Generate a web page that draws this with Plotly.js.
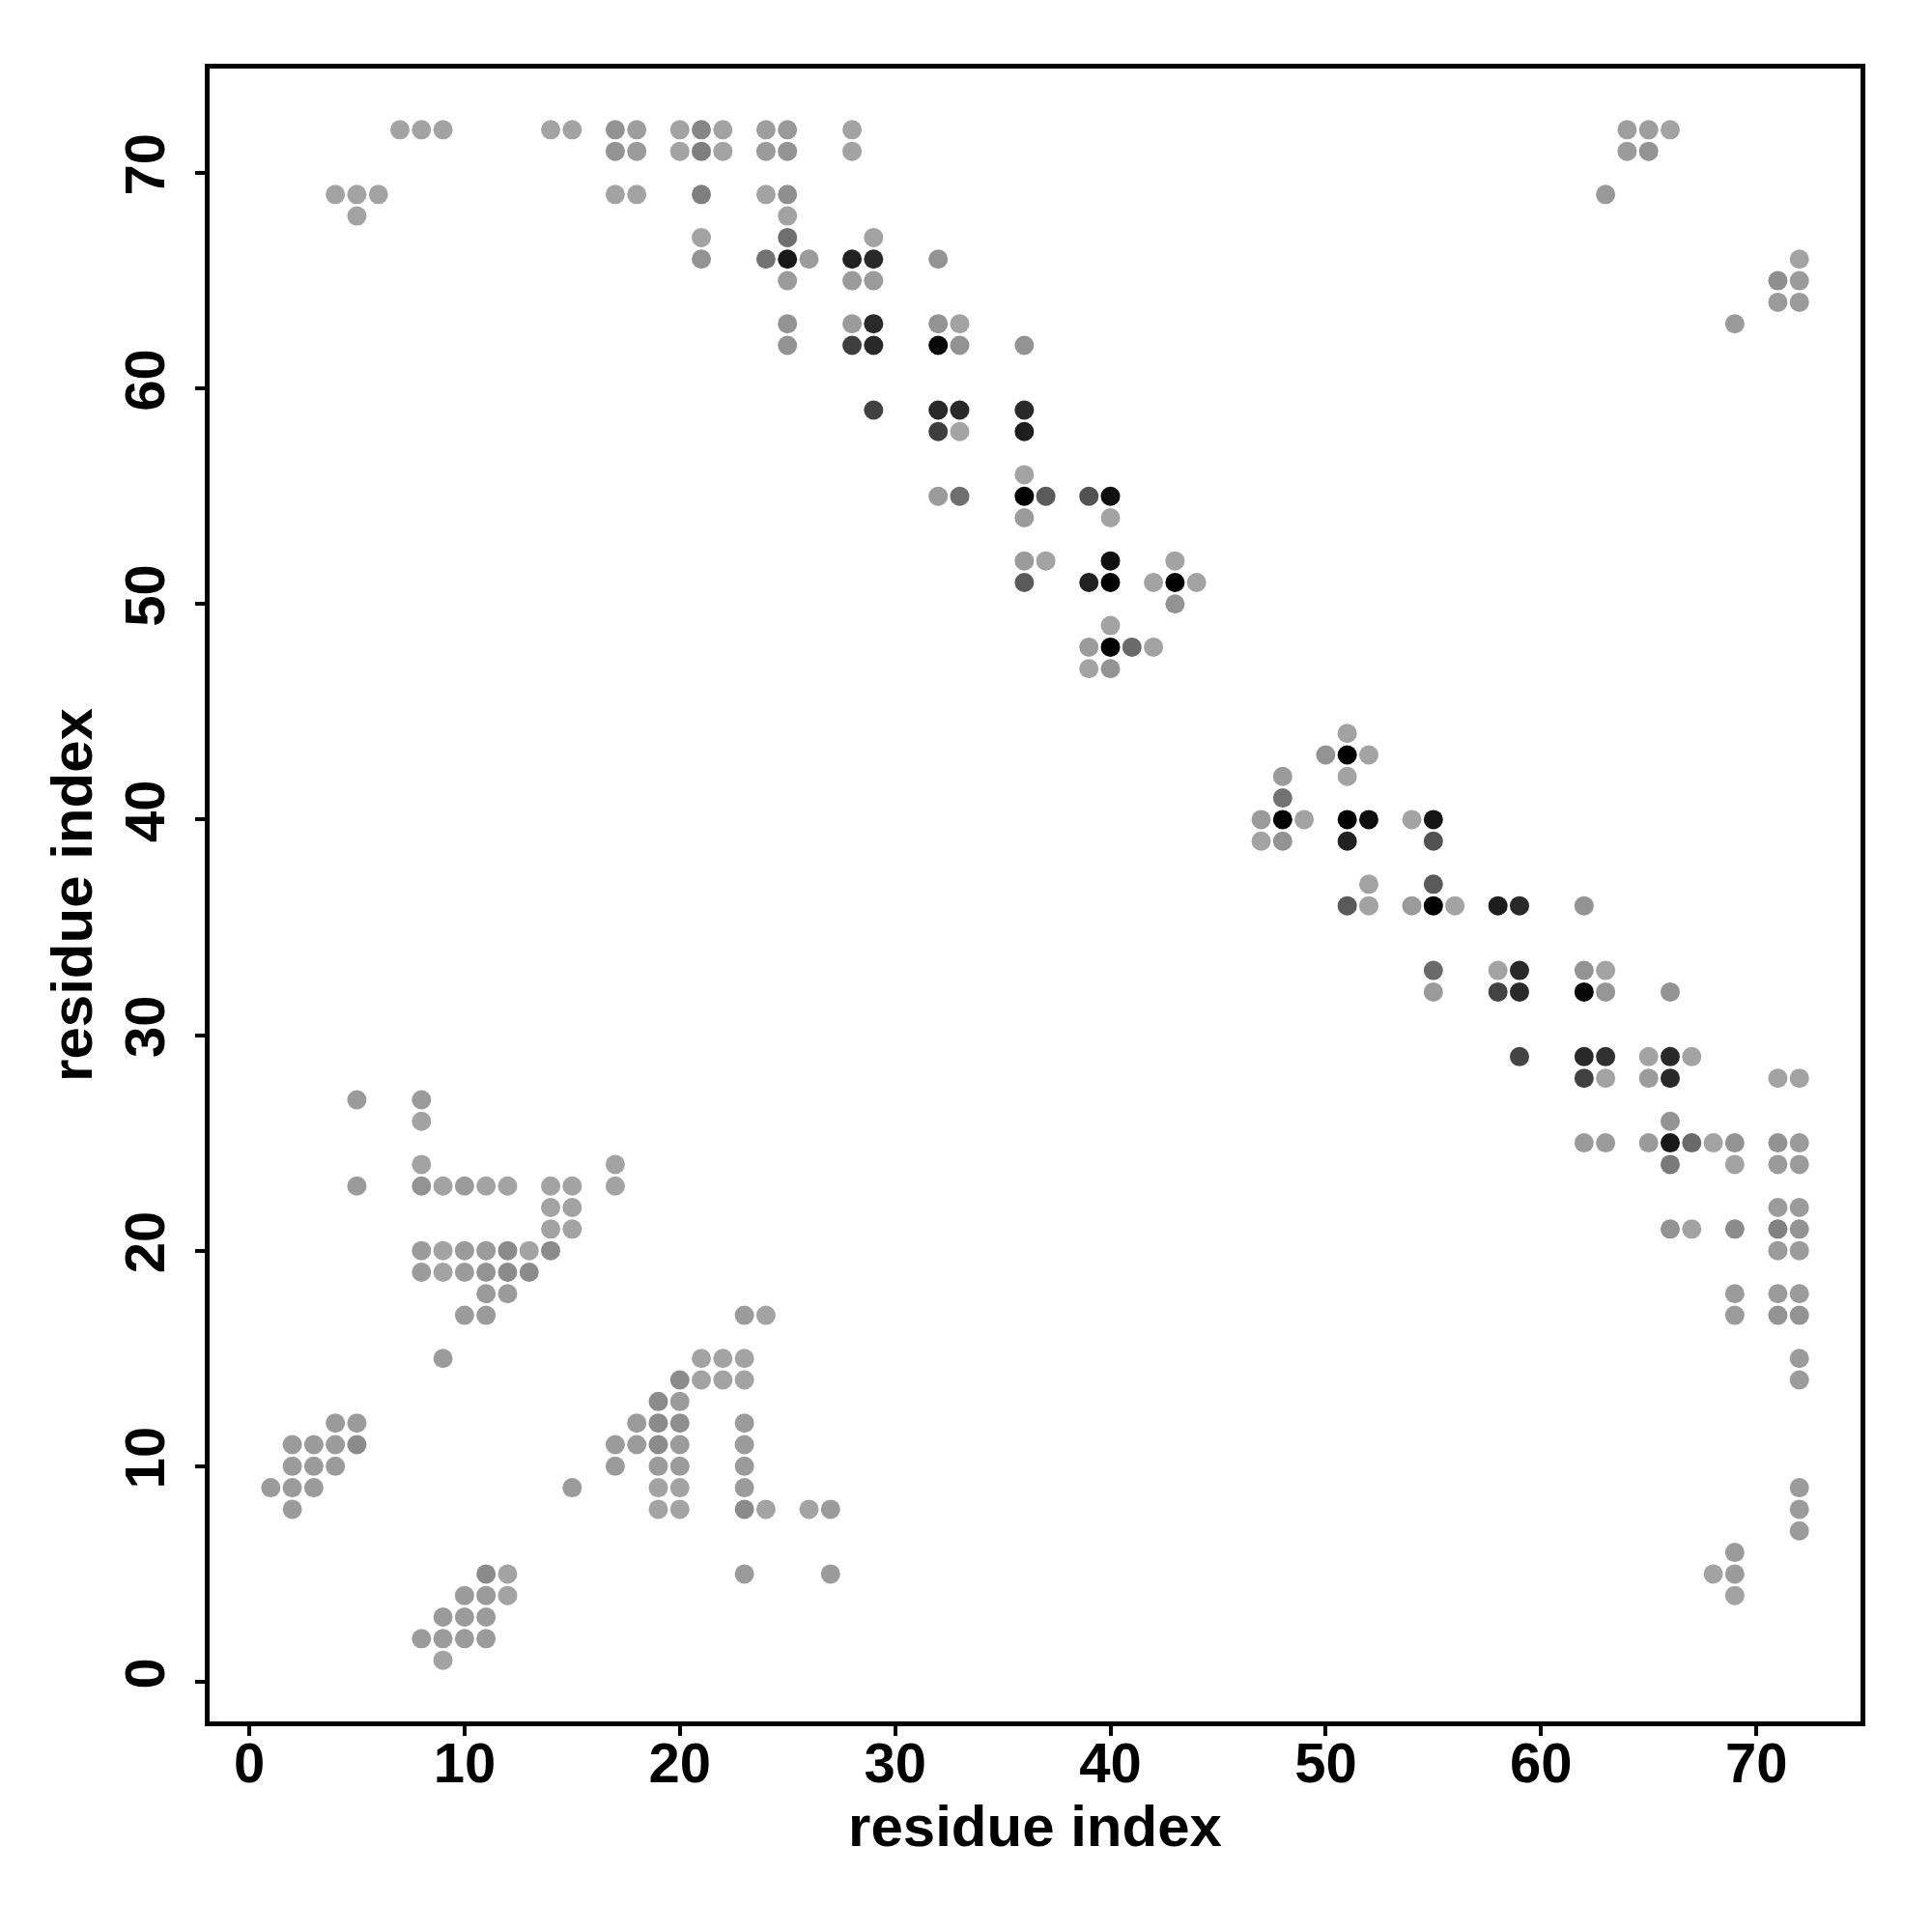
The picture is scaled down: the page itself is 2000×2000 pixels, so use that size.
<!DOCTYPE html>
<html>
<head>
<meta charset="utf-8">
<script src="https://cdn.plot.ly/plotly-3.0.1.min.js"></script>
<style>
  html, body { margin: 0; padding: 0; background: #ffffff; }
  #chart { width: 2000px; height: 2000px; }
</style>
</head>
<body>
<div id="chart"></div>
<script>
// Contact map: residue index pairs and contact score (0 = light grey, 1 = black)
const residueI = [
  // y = 72
  7,8,9,14,15,17,18,20,21,22,24,25,28,64,65,66,
  // y = 71
  17,18,20,21,22,24,25,28,64,65,
  // y = 69
  4,5,6,17,18,21,24,25,63,
  // y = 68
  5,25,
  // y = 67
  21,25,29,
  // y = 66
  21,24,25,26,28,29,32,72,
  // y = 65
  25,28,29,71,72,
  // y = 64
  71,72,
  // y = 63
  25,28,29,32,33,69,
  // y = 62
  25,28,29,32,33,36,
  // y = 59
  29,32,33,36,
  // y = 58
  32,33,36,
  // y = 56
  36,
  // y = 55
  32,33,36,37,39,40,
  // y = 54
  36,40,
  // y = 52
  36,37,40,43,
  // y = 51
  36,39,40,42,43,44,
  // y = 50
  43,
  // y = 49
  40,
  // y = 48
  39,40,41,42,
  // y = 47
  39,40,
  // y = 44
  51,
  // y = 43
  50,51,52,
  // y = 42
  48,51,
  // y = 41
  48,
  // y = 40
  47,48,49,51,52,54,55,
  // y = 39
  47,48,51,55,
  // y = 37
  52,55,
  // y = 36
  51,52,54,55,56,58,59,62,
  // y = 33
  55,58,59,62,63,
  // y = 32
  55,58,59,62,63,66,
  // y = 29
  59,62,63,65,66,67,
  // y = 28
  62,63,65,66,71,72,
  // y = 27
  5,8,
  // y = 26
  8,66,
  // y = 25
  62,63,65,66,67,68,69,71,72,
  // y = 24
  8,17,66,69,71,72,
  // y = 23
  5,8,9,10,11,12,14,15,17,
  // y = 22
  14,15,71,72,
  // y = 21
  14,15,66,67,69,71,72,
  // y = 20
  8,9,10,11,12,13,14,71,72,
  // y = 19
  8,9,10,11,12,13,
  // y = 18
  11,12,69,71,72,
  // y = 17
  10,11,23,24,69,71,72,
  // y = 15
  9,21,22,23,72,
  // y = 14
  20,21,22,23,72,
  // y = 13
  19,20,
  // y = 12
  4,5,18,19,20,23,
  // y = 11
  2,3,4,5,17,18,19,20,23,
  // y = 10
  2,3,4,17,19,20,23,
  // y = 9
  1,2,3,15,19,20,23,72,
  // y = 8
  2,19,20,23,24,26,27,72,
  // y = 7
  72,
  // y = 6
  69,
  // y = 5
  11,12,23,27,68,69,
  // y = 4
  10,11,12,69,
  // y = 3
  9,10,11,
  // y = 2
  8,9,10,11,
  // y = 1
  9
];

const residueJ = [
  72,72,72,72,72,72,72,72,72,72,72,72,72,72,72,72,
  71,71,71,71,71,71,71,71,71,71,
  69,69,69,69,69,69,69,69,69,
  68,68,
  67,67,67,
  66,66,66,66,66,66,66,66,
  65,65,65,65,65,
  64,64,
  63,63,63,63,63,63,
  62,62,62,62,62,62,
  59,59,59,59,
  58,58,58,
  56,
  55,55,55,55,55,55,
  54,54,
  52,52,52,52,
  51,51,51,51,51,51,
  50,
  49,
  48,48,48,48,
  47,47,
  44,
  43,43,43,
  42,42,
  41,
  40,40,40,40,40,40,40,
  39,39,39,39,
  37,37,
  36,36,36,36,36,36,36,36,
  33,33,33,33,33,
  32,32,32,32,32,32,
  29,29,29,29,29,29,
  28,28,28,28,28,28,
  27,27,
  26,26,
  25,25,25,25,25,25,25,25,25,
  24,24,24,24,24,24,
  23,23,23,23,23,23,23,23,23,
  22,22,22,22,
  21,21,21,21,21,21,21,
  20,20,20,20,20,20,20,20,20,
  19,19,19,19,19,19,
  18,18,18,18,18,
  17,17,17,17,17,17,17,
  15,15,15,15,15,
  14,14,14,14,14,
  13,13,
  12,12,12,12,12,12,
  11,11,11,11,11,11,11,11,11,
  10,10,10,10,10,10,10,
  9,9,9,9,9,9,9,9,
  8,8,8,8,8,8,8,8,
  7,
  6,
  5,5,5,5,5,5,
  4,4,4,4,
  3,3,3,
  2,2,2,2,
  1
];

const contactScore = [
  // y = 72
  0,0,0,0,0,0.1,0.03,0,0.18,0,0.03,0.06,0,0.03,0.03,0,
  // y = 71
  0.1,0.05,0,0.22,0,0.05,0.1,0,0.05,0.1,
  // y = 69
  0,0,0,0,0,0.22,0,0.12,0.06,
  // y = 68
  0,0,
  // y = 67
  0,0.32,0,
  // y = 66
  0.1,0.3,0.85,0.05,0.8,0.75,0.1,0,
  // y = 65
  0.05,0.05,0.05,0.12,0.05,
  // y = 64
  0.05,0.05,
  // y = 63
  0.1,0.05,0.75,0.1,0,0.05,
  // y = 62
  0.1,0.62,0.75,0.95,0.1,0.1,
  // y = 59
  0.6,0.75,0.75,0.75,
  // y = 58
  0.62,0,0.82,
  // y = 56
  0,
  // y = 55
  0.05,0.32,1.0,0.45,0.5,0.9,
  // y = 54
  0.05,0,
  // y = 52
  0.05,0,0.9,0,
  // y = 51
  0.45,0.8,1.0,0,1.0,0,
  // y = 50
  0.1,
  // y = 49
  0,
  // y = 48
  0.05,1.0,0.35,0,
  // y = 47
  0,0.1,
  // y = 44
  0,
  // y = 43
  0.1,1.0,0,
  // y = 42
  0.05,0,
  // y = 41
  0.3,
  // y = 40
  0.05,1.0,0,1.0,0.92,0,0.87,
  // y = 39
  0,0.1,0.8,0.5,
  // y = 37
  0,0.45,
  // y = 36
  0.45,0,0.05,1.0,0,0.82,0.75,0.1,
  // y = 33
  0.35,0,0.75,0.1,0,
  // y = 32
  0.05,0.58,0.75,0.95,0.08,0.1,
  // y = 29
  0.58,0.75,0.7,0,0.75,0,
  // y = 28
  0.6,0,0.05,0.75,0,0,
  // y = 27
  0.05,0.05,
  // y = 26
  0,0.1,
  // y = 25
  0.05,0.05,0.05,0.85,0.35,0,0.1,0.1,0.05,
  // y = 24
  0,0,0.25,0,0.05,0.05,
  // y = 23
  0.05,0.1,0,0.05,0,0,0,0,0,
  // y = 22
  0,0,0.05,0.05,
  // y = 21
  0,0,0.1,0,0.15,0.2,0.1,
  // y = 20
  0.05,0,0.05,0.05,0.15,0,0.15,0.05,0.05,
  // y = 19
  0.05,0,0.05,0.1,0.15,0.15,
  // y = 18
  0.05,0.05,0.05,0.05,0.05,
  // y = 17
  0.05,0.05,0.05,0,0.05,0.1,0.1,
  // y = 15
  0.05,0,0,0,0.05,
  // y = 14
  0.15,0,0,0,0.05,
  // y = 13
  0.15,0.05,
  // y = 12
  0.05,0.05,0.05,0.15,0.12,0.05,
  // y = 11
  0.05,0.05,0.05,0.15,0.05,0.05,0.15,0.05,0.05,
  // y = 10
  0.05,0.05,0.05,0.05,0.05,0.05,0.05,
  // y = 9
  0.05,0.05,0.05,0.05,0,0,0.05,0.05,
  // y = 8
  0.05,0,0,0.15,0,0,0.05,0.05,
  // y = 7
  0.05,
  // y = 6
  0.05,
  // y = 5
  0.15,0,0.05,0.05,0,0.05,
  // y = 4
  0.05,0.05,0,0,
  // y = 3
  0.05,0.05,0.05,
  // y = 2
  0.05,0.05,0.05,0.05,
  // y = 1
  0
];

const tickValues = [0, 10, 20, 30, 40, 50, 60, 70];
const axisLabel = 'residue index';

const trace = {
  type: 'scatter',
  mode: 'markers',
  x: residueI,
  y: residueJ,
  marker: {
    size: 20,
    color: contactScore,
    cmin: 0,
    cmax: 1,
    colorscale: [[0, 'rgb(163,163,163)'], [1, 'rgb(0,0,0)']],
    showscale: false,
    line: { width: 0 }
  },
  hoverinfo: 'x+y'
};

const tickFont = { family: 'Liberation Sans, Arial, Helvetica, sans-serif', size: 58, weight: 'bold', color: '#000000' };
const titleFont = { family: 'Liberation Sans, Arial, Helvetica, sans-serif', size: 60, weight: 'bold', color: '#000000' };

const layout = {
  width: 2000,
  height: 2000,
  paper_bgcolor: '#ffffff',
  plot_bgcolor: '#ffffff',
  showlegend: false,
  margin: { l: 217, r: 74, t: 71, b: 218, pad: 0 },
  font: tickFont,
  xaxis: {
    range: [-1.84, 74.84],
    tickvals: tickValues,
    ticktext: tickValues.map(String),
    ticks: 'outside',
    ticklen: 10,
    tickwidth: 4,
    tickcolor: '#000000',
    tickfont: tickFont,
    ticklabelstandoff: -22,
    showgrid: false,
    zeroline: false,
    showline: true,
    linewidth: 5,
    linecolor: '#000000',
    mirror: true,
    title: { text: axisLabel, font: titleFont, standoff: 0 }
  },
  yaxis: {
    range: [-1.84, 74.84],
    tickvals: tickValues,
    ticktext: tickValues.map(String),
    ticks: 'outside',
    ticklen: 10,
    tickwidth: 4,
    tickcolor: '#000000',
    tickfont: tickFont,
    tickangle: -90,
    ticklabelstandoff: 9,
    showgrid: false,
    zeroline: false,
    showline: true,
    linewidth: 5,
    linecolor: '#000000',
    mirror: true,
    title: { text: axisLabel, font: titleFont, standoff: 3 }
  }
};

Plotly.newPlot('chart', [trace], layout, { staticPlot: true, displayModeBar: false });
</script>
</body>
</html>
